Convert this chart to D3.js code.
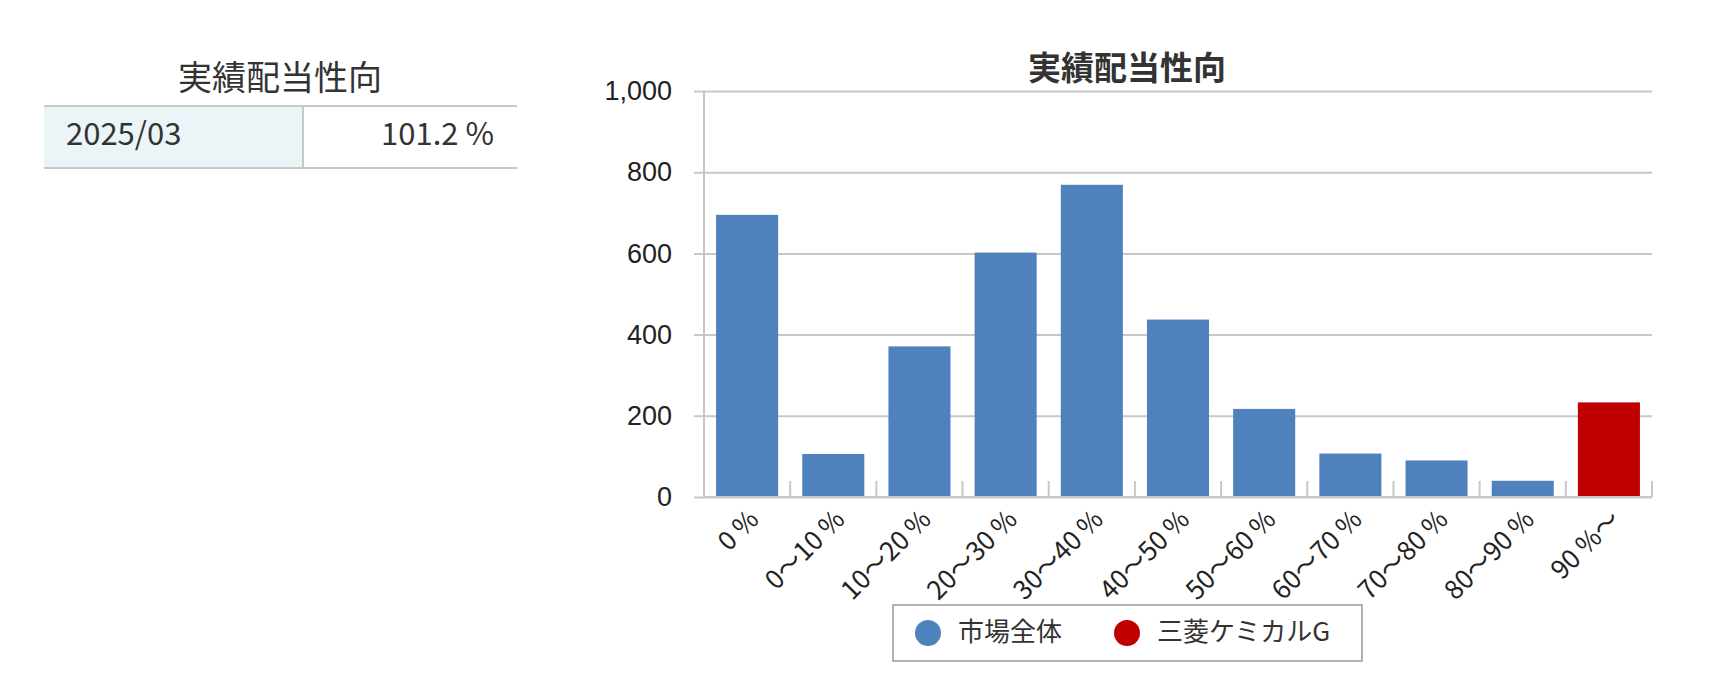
<!DOCTYPE html>
<html>
<head>
<meta charset="utf-8">
<script src="https://cdn.jsdelivr.net/npm/d3@7"></script>
<style>
  html, body { margin: 0; padding: 0; background: #fff; }
  svg { display: block; font-family: "Noto Sans CJK JP", "Noto Sans", sans-serif; }
</style>
</head>
<body>
<svg id="chart" width="1722" height="693"></svg>
<script>
// ---- data ----
const chartTitle = "実績配当性向";
const categories = ["0 %", "0〜10 %", "10〜20 %", "20〜30 %", "30〜40 %", "40〜50 %", "50〜60 %", "60〜70 %", "70〜80 %", "80〜90 %", "90 %〜"];
const counts = [695, 106, 371, 602, 769, 437, 217, 107, 90, 40, 233];
const companyCategory = "90 %〜";
const seriesNames = ["市場全体", "三菱ケミカルG"];
const seriesColors = ["#4F81BD", "#C00000"];
const yTicks = [0, 200, 400, 600, 800, 1000];
const tableRows = [["2025/03", "101.2 %"]];

// ---- layout ----
const svg = d3.select("#chart");
svg.append("rect").attr("width", 1722).attr("height", 693).attr("fill", "#fff");

const plot = { left: 704, right: 1652, top: 91, bottom: 497 };
const x = d3.scaleBand().domain(categories).range([plot.left, plot.right]).paddingInner(0.28).paddingOuter(0.14);
const y = d3.scaleLinear().domain([0, 1000]).range([plot.bottom, plot.top]);
const grid = "#c8c8c8";

// ---- left table ----
const tbl = { left: 44, right: 517, top: 106, bottom: 168, divider: 303 };
svg.append("text").attr("x", 280).attr("y", 81).attr("text-anchor", "middle")
  .attr("dominant-baseline", "middle").attr("font-size", 34).attr("fill", "#333").text(chartTitle);
svg.append("rect").attr("x", tbl.left).attr("y", tbl.top).attr("width", tbl.divider - tbl.left)
  .attr("height", tbl.bottom - tbl.top).attr("fill", "#EBF4F7");
[tbl.top, tbl.bottom].forEach(yy => svg.append("line").attr("x1", tbl.left).attr("x2", tbl.right)
  .attr("y1", yy).attr("y2", yy).attr("stroke", grid).attr("stroke-width", 2));
svg.append("line").attr("x1", tbl.divider).attr("x2", tbl.divider).attr("y1", tbl.top).attr("y2", tbl.bottom)
  .attr("stroke", grid).attr("stroke-width", 2);
tableRows.forEach(r => {
  svg.append("text").attr("x", 66).attr("y", (tbl.top + tbl.bottom) / 2).attr("dominant-baseline", "middle")
    .attr("font-size", 31).attr("fill", "#333").text(r[0]);
  svg.append("text").attr("x", 494).attr("y", (tbl.top + tbl.bottom) / 2).attr("dominant-baseline", "middle")
    .attr("text-anchor", "end").attr("font-size", 31).attr("fill", "#333").text(r[1]);
});

// ---- chart title ----
svg.append("text").attr("x", 1127).attr("y", 71).attr("text-anchor", "middle").attr("dominant-baseline", "middle")
  .attr("font-size", 33).attr("font-weight", "bold").attr("fill", "#333").text(chartTitle);

// ---- gridlines + y axis ----
const yAxis = d3.axisLeft(y).tickValues(yTicks).tickFormat(d3.format(",")).tickSize(plot.right - plot.left + 10).tickPadding(22);
const gy = svg.append("g").attr("transform", `translate(${plot.right},0)`).call(yAxis);
gy.select(".domain").remove();
gy.selectAll(".tick line").attr("stroke", grid).attr("stroke-width", 2);
gy.selectAll(".tick text").attr("font-size", 27).attr("fill", "#222").attr("font-family", "inherit");
// y axis line
svg.append("line").attr("x1", plot.left).attr("x2", plot.left).attr("y1", plot.top).attr("y2", plot.bottom)
  .attr("stroke", grid).attr("stroke-width", 2);

// ---- bars ----
svg.append("g").selectAll("rect").data(categories).join("rect")
  .attr("x", d => x(d)).attr("width", x.bandwidth())
  .attr("y", (d, i) => y(counts[i])).attr("height", (d, i) => y(0) - y(counts[i]))
  .attr("fill", d => d === companyCategory ? seriesColors[1] : seriesColors[0]);

// ---- x axis ----
const step = x.step();
const gx = svg.append("g").attr("transform", `translate(0,${plot.bottom})`);
gx.append("line").attr("x1", plot.left).attr("x2", plot.right).attr("stroke", grid).attr("stroke-width", 2);
const boundaries = d3.range(1, categories.length + 1).map(i => plot.left + i * step);
gx.selectAll(".ctick").data(boundaries).join("line").attr("class", "ctick")
  .attr("x1", d => d).attr("x2", d => d).attr("y1", 0).attr("y2", -16).attr("stroke", grid).attr("stroke-width", 2);
gx.selectAll(".clabel").data(categories).join("text").attr("class", "clabel")
  .attr("transform", d => `translate(${x(d) + x.bandwidth() / 2 + 8},${19}) rotate(-45)`)
  .attr("text-anchor", "end").attr("dominant-baseline", "middle")
  .attr("font-size", 26).attr("fill", "#222").text(d => d);

// ---- legend ----
const lg = svg.append("g");
lg.append("rect").attr("x", 893).attr("y", 605).attr("width", 469).attr("height", 56)
  .attr("fill", "#fff").attr("stroke", "#999").attr("stroke-width", 1.5);
const legendX = [928, 1127];
seriesNames.forEach((n, i) => {
  lg.append("circle").attr("cx", legendX[i]).attr("cy", 633).attr("r", 13).attr("fill", seriesColors[i]);
  lg.append("text").attr("x", legendX[i] + 30).attr("y", 634).attr("dominant-baseline", "middle")
    .attr("font-size", 26).attr("fill", "#333").text(n);
});
</script>
</body>
</html>
